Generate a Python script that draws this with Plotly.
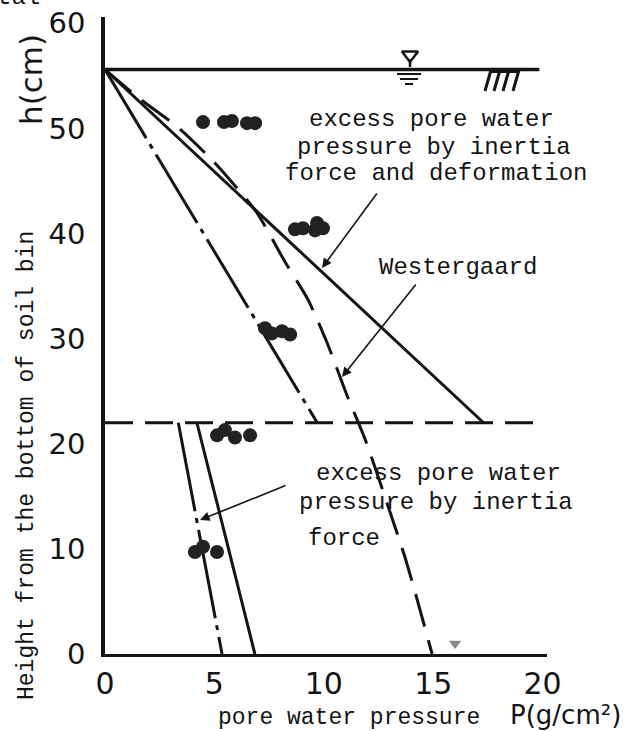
import plotly.graph_objects as go

# ---------------- data ----------------
# excess pore water pressure by inertia force and deformation (solid, upper)
solid_up_P = [0.0, 17.3]
solid_up_h = [55.6, 22.0]

# dash-dot line upper part
dashdot_up_P = [0.0, 9.7]
dashdot_up_h = [55.6, 22.0]

# Westergaard (dashed curve)
wester_P = [0.0, 1.6, 3.34, 4.98, 6.9, 8.23, 9.28, 10.19, 11.06, 11.93, 13.25, 13.71, 14.21, 14.95]
wester_h = [55.6, 52.8, 50.1, 46.8, 42.1, 37.3, 33.7, 29.4, 24.6, 20.2, 12.1, 9.2, 5.6, 0.0]

# lower layer: excess pore water pressure by inertia force
solid_low_P = [4.2, 6.85]
solid_low_h = [22.0, 0.0]
dashdot_low_P = [3.35, 5.35]
dashdot_low_h = [22.0, 0.0]

# horizontal dashed boundary
boundary_P = [0.0, 20.0]
boundary_h = [22.0, 22.0]

# water surface
surface_P = [0.0, 19.85]
surface_h = [55.6, 55.6]

# measured points
dot_P = [4.48, 5.44, 5.80, 6.49, 6.86,
         8.68, 9.05, 9.60, 9.69, 9.96,
         7.31, 7.63, 8.09, 8.46,
         5.12, 5.48, 5.94, 6.63,
         4.11, 4.48, 5.12]
dot_h = [50.6, 50.6, 50.7, 50.5, 50.5,
         40.4, 40.5, 40.3, 41.0, 40.5,
         31.0, 30.5, 30.7, 30.4,
         20.8, 21.3, 20.6, 20.8,
         9.7, 10.2, 9.7]

# small marker on the bottom
bottom_mark_P = [16.0]
bottom_mark_h = [1.0]

x_ticks = [0, 5, 10, 15, 20]
y_ticks = [0, 10, 20, 30, 40, 50, 60]

# ---------------- layout helpers ----------------
L, R, T, B = 105, 93, 17, 77
W, H = 640, 731
XR = [0, 20.2]
YR = [0, 60.6]
PW, PH = W - L - R, H - T - B


def px2x(px):
    return XR[0] + (px - L) / PW * (XR[1] - XR[0])


def py2y(py):
    return YR[0] + (H - B - py) / PH * (YR[1] - YR[0])


def px2p(px):
    return (px - L) / PW


def py2p(py):
    return (H - B - py) / PH


INK = "#141414"
MONO = "Liberation Mono, DejaVu Sans Mono, monospace"
SANS = "DejaVu Sans, Arial, sans-serif"

fig = go.Figure()

line_w = 3
fig.add_trace(go.Scatter(x=surface_P, y=surface_h, mode="lines",
                         line=dict(color=INK, width=3.5)))
fig.add_trace(go.Scatter(x=boundary_P, y=boundary_h, mode="lines",
                         line=dict(color=INK, width=line_w, dash="28px,12px")))
fig.add_trace(go.Scatter(x=solid_up_P, y=solid_up_h, mode="lines",
                         line=dict(color=INK, width=line_w)))
fig.add_trace(go.Scatter(x=dashdot_up_P, y=dashdot_up_h, mode="lines",
                         line=dict(color=INK, width=line_w, dash="80px,7px,5px,7px")))
fig.add_trace(go.Scatter(x=wester_P, y=wester_h, mode="lines",
                         line=dict(color=INK, width=line_w, dash="34px,14px", shape="spline",
                                   smoothing=0.6)))
fig.add_trace(go.Scatter(x=solid_low_P, y=solid_low_h, mode="lines",
                         line=dict(color=INK, width=line_w)))
fig.add_trace(go.Scatter(x=dashdot_low_P, y=dashdot_low_h, mode="lines",
                         line=dict(color=INK, width=line_w, dash="90px,7px,5px,7px")))
fig.add_trace(go.Scatter(x=dot_P, y=dot_h, mode="markers",
                         marker=dict(color="#222222", size=14, line=dict(width=0))))
fig.add_trace(go.Scatter(x=bottom_mark_P, y=bottom_mark_h, mode="markers",
                         marker=dict(color="#8a8a8a", size=11, symbol="triangle-down"),
                         cliponaxis=False))

# water symbol (inverted triangle with ripple lines) and ground hatching
fig.add_trace(go.Scatter(x=[px2x(410)], y=[py2y(55)], mode="markers",
                         marker=dict(symbol="triangle-down", size=14, color="white",
                                     line=dict(color=INK, width=2.5)),
                         cliponaxis=False))
shapes = []
shapes.append(dict(type="line", x0=px2x(410), x1=px2x(410), y0=py2y(59), y1=py2y(67),
                   line=dict(color=INK, width=2.5)))
for (a, b_, yy) in [(397, 421, 74), (400, 418, 79), (405, 413, 84)]:
    shapes.append(dict(type="line", x0=px2x(a), x1=px2x(b_), y0=py2y(yy), y1=py2y(yy),
                       line=dict(color=INK, width=2)))
for top in [491, 500, 509, 519]:
    shapes.append(dict(type="line", x0=px2x(top), x1=px2x(top - 6), y0=py2y(70), y1=py2y(91),
                       line=dict(color=INK, width=3)))
shapes.append(dict(type="line", x0=px2x(491), x1=px2x(519), y0=py2y(72), y1=py2y(72),
                   line=dict(color=INK, width=2)))

annotations = []


def txt(text, px, py, size=24, xanchor="center", font=MONO, angle=0):
    annotations.append(dict(text=text, x=px2p(px), y=py2p(py), xref="paper", yref="paper",
                            showarrow=False, xanchor=xanchor, yanchor="middle",
                            textangle=angle,
                            font=dict(family=font, size=size, color=INK)))


txt("excess pore water", 431, 120)
txt("pressure by inertia", 434, 147)
txt("force and deformation", 436, 173)
txt("Westergaard", 458, 267)
txt("excess pore water", 438, 473)
txt("pressure by inertia", 436, 502)
txt("force", 306, 538, xanchor="left")
txt("pore water pressure", 349, 718, size=23)
txt("P(g/cm²)", 565, 715, size=26, font=SANS)
txt("h(cm)", 31, 80, size=31, font=SANS, angle=-90)
txt("Height from the bottom of soil bin", 27, 466, size=23, angle=-90)
txt("tal", 18, -2, size=24, xanchor="center")


def arrow(hx, hy, tx, ty):
    annotations.append(dict(text="", x=px2x(hx), y=py2y(hy), ax=px2x(tx), ay=py2y(ty),
                            xref="x", yref="y", axref="x", ayref="y",
                            showarrow=True, arrowhead=2, arrowsize=1.2, arrowwidth=1.6,
                            arrowcolor=INK))


arrow(322, 268, 378, 192)
arrow(342, 377, 417, 283)
arrow(200, 520, 287, 485)

fig.update_layout(
    width=W, height=H,
    margin=dict(l=L, r=R, t=T, b=B, autoexpand=False),
    plot_bgcolor="white", paper_bgcolor="white",
    showlegend=False,
    shapes=shapes,
    annotations=annotations,
    xaxis=dict(range=XR, tickvals=x_ticks, ticktext=[str(v) for v in x_ticks],
               showline=True, linewidth=3, linecolor=INK, ticks="",
               showgrid=False, zeroline=False, ticklabelstandoff=1, automargin=False,
               tickfont=dict(family=SANS, size=30, color=INK)),
    yaxis=dict(range=YR, tickvals=y_ticks, ticktext=[str(v) for v in y_ticks],
               showline=True, linewidth=3.5, linecolor=INK, ticks="",
               showgrid=False, zeroline=False, ticklabelstandoff=10, automargin=False,
               tickfont=dict(family=SANS, size=29, color=INK)),
)

fig.write_html(
    "out.html",
    config={"displayModeBar": False},
    post_script="document.body.style.margin='0px';document.body.style.overflow='hidden';",
)
